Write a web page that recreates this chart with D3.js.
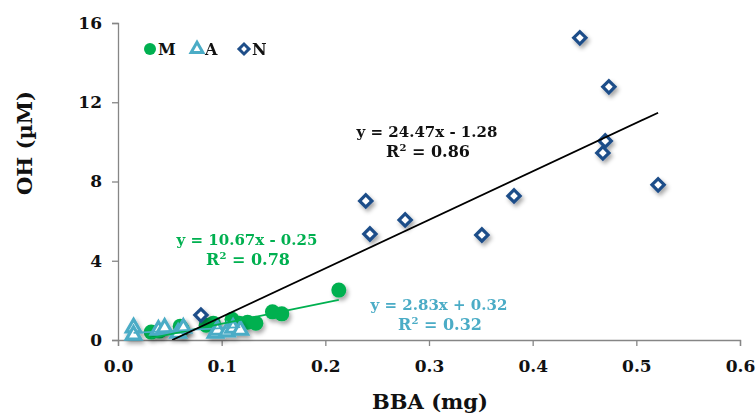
<!DOCTYPE html>
<html>
<head>
<meta charset="utf-8">
<script src="https://cdn.jsdelivr.net/npm/d3@7"></script>
<style>
  body { margin: 0; background: #fff; }
  text { font-family: "DejaVu Serif", serif; font-weight: bold; }
</style>
</head>
<body>
<svg width="756" height="415"></svg>
<script>
  // data: [BBA (mg), OH (uM)]
  const mPoints = [
    [0.032, 0.4], [0.040, 0.45], [0.060, 0.7], [0.062, 0.55], [0.085, 0.75],
    [0.092, 0.85], [0.110, 1.05], [0.117, 0.85], [0.125, 0.9], [0.133, 0.85],
    [0.149, 1.42], [0.158, 1.32], [0.213, 2.52]
  ];
  const aPoints = [
    [0.015, 0.62], [0.015, 0.25], [0.039, 0.5], [0.045, 0.6], [0.058, 0.35],
    [0.063, 0.6], [0.094, 0.35], [0.096, 0.5], [0.105, 0.42], [0.111, 0.6],
    [0.118, 0.5]
  ];
  const nPoints = [
    [0.080, 1.26], [0.239, 7.02], [0.243, 5.35], [0.277, 6.06], [0.351, 5.3],
    [0.382, 7.27], [0.4455, 15.25], [0.4677, 9.44], [0.470, 10.05],
    [0.4735, 12.78], [0.521, 7.83]
  ];
  const seriesNames = ["M", "A", "N"];
  // trendlines: slope, intercept, x from, x to
  const fits = [
    { name: "M", slope: 10.67, icept: -0.25, x0: 0.032, x1: 0.213, eq: "y = 10.67x - 0.25", r2: "0.78" },
    { name: "A", slope: 2.83, icept: 0.32, x0: 0.015, x1: 0.118, eq: "y = 2.83x + 0.32", r2: "0.32" },
    { name: "N", slope: 24.47, icept: -1.28, x0: 0.0523, x1: 0.521, eq: "y = 24.47x - 1.28", r2: "0.86" }
  ];
  const xTicks = [0, 0.1, 0.2, 0.3, 0.4, 0.5, 0.6];
  const yTicks = [0, 4, 8, 12, 16];

  const colors = { M: "#00b050", A: "#4bacc6", N: "#1f4e89" };
  const lineColors = { M: "#00b050", A: "#4bacc6", N: "#000000" };

  const svg = d3.select("svg");
  const x = d3.scaleLinear().domain([0, 0.6]).range([118, 740]);
  const y = d3.scaleLinear().domain([0, 16]).range([340, 23]);

  const defs = svg.append("defs");
  defs.append("filter").attr("id", "shadow")
    .attr("x", "-50%").attr("y", "-50%").attr("width", "200%").attr("height", "200%")
    .append("feDropShadow")
    .attr("dx", 2).attr("dy", 3).attr("stdDeviation", 2)
    .attr("flood-color", "#000").attr("flood-opacity", 0.35);
  defs.append("clipPath").attr("id", "plot")
    .append("rect").attr("x", 118).attr("y", 23).attr("width", 622).attr("height", 317);

  // axes
  const xAxis = svg.append("g")
    .attr("transform", "translate(0,340)")
    .call(d3.axisBottom(x).tickValues(xTicks).tickFormat(d3.format(".1f")).tickSizeOuter(0).tickSize(6).tickPadding(14));
  const yAxis = svg.append("g")
    .attr("transform", "translate(118,0)")
    .call(d3.axisLeft(y).tickValues(yTicks).tickSizeOuter(0).tickSize(6).tickPadding(10));
  [xAxis, yAxis].forEach(a => {
    a.select(".domain").attr("stroke", "#868686").attr("stroke-width", 1.3);
    a.selectAll(".tick line").attr("stroke", "#868686").attr("stroke-width", 1.3);
    a.selectAll(".tick text").attr("fill", "#111").style("font-size", "17px");
  });

  svg.append("text").attr("x", 430).attr("y", 409).attr("text-anchor", "middle")
    .style("font-size", "21px").attr("fill", "#111").text("BBA (mg)");
  svg.append("text").attr("transform", "translate(32,143) rotate(-90)").attr("text-anchor", "middle")
    .style("font-size", "21px").attr("fill", "#111").text("OH (µM)");

  // markers
  const plot = svg.append("g");
  plot.append("g").attr("filter", "url(#shadow)").selectAll("circle").data(mPoints).join("circle")
    .attr("cx", d => x(d[0])).attr("cy", d => y(d[1])).attr("r", 7.5)
    .attr("fill", colors.M);
  const tri = d3.symbol().type(d3.symbolTriangle).size(90);
  plot.append("g").attr("filter", "url(#shadow)").selectAll("path").data(aPoints).join("path")
    .attr("d", tri).attr("transform", d => `translate(${x(d[0])},${y(d[1])})`)
    .attr("fill", "#fff").attr("stroke", colors.A).attr("stroke-width", 3.2);
  const dia = d3.symbol().type(d3.symbolSquare).size(75);
  plot.append("g").attr("filter", "url(#shadow)").selectAll("path").data(nPoints).join("path")
    .attr("d", dia).attr("transform", d => `translate(${x(d[0])},${y(d[1])}) rotate(45)`)
    .attr("fill", "#fff").attr("stroke", colors.N).attr("stroke-width", 3.2);

  // trendlines
  const line = d3.line().x(d => x(d[0])).y(d => y(d[1]));
  svg.append("g").attr("clip-path", "url(#plot)").selectAll("path").data(fits).join("path")
    .attr("d", f => line([[f.x0, f.slope * f.x0 + f.icept], [f.x1, f.slope * f.x1 + f.icept]]))
    .attr("stroke", f => lineColors[f.name]).attr("stroke-width", 1.8).attr("fill", "none");

  // equation labels
  const labelPos = { M: [247, 245], A: [439, 310], N: [427, 137] };
  fits.forEach(f => {
    const [lx, ly] = labelPos[f.name];
    const c = f.name === "N" ? "#111" : colors[f.name];
    svg.append("text").attr("x", lx).attr("y", ly).attr("text-anchor", "middle")
      .style("font-size", "15px").attr("fill", c).text(f.eq);
    const t = svg.append("text").attr("x", lx + 1).attr("y", ly + 20).attr("text-anchor", "middle")
      .style("font-size", "16px").attr("fill", c);
    t.append("tspan").text("R");
    t.append("tspan").attr("dy", -6).style("font-size", "10px").text("2");
    t.append("tspan").attr("dy", 6).text(" = " + f.r2);
  });

  // legend
  const legend = svg.append("g").attr("transform", "translate(150,49)");
  const lg = legend.selectAll("g").data(seriesNames).join("g")
    .attr("transform", (d, i) => `translate(${i * 47},0)`);
  lg.each(function (d) {
    const g = d3.select(this);
    if (d === "M") g.append("circle").attr("r", 6).attr("fill", colors.M);
    if (d === "A") g.append("path").attr("d", d3.symbol().type(d3.symbolTriangle).size(60))
      .attr("fill", "#fff").attr("stroke", colors.A).attr("stroke-width", 3);
    if (d === "N") g.append("path").attr("d", d3.symbol().type(d3.symbolSquare).size(50))
      .attr("transform", "rotate(45)")
      .attr("fill", "#fff").attr("stroke", colors.N).attr("stroke-width", 3);
    g.append("text").attr("x", 8).attr("y", 6).style("font-size", "16px").attr("fill", "#111").text(d);
  });
</script>
</body>
</html>
